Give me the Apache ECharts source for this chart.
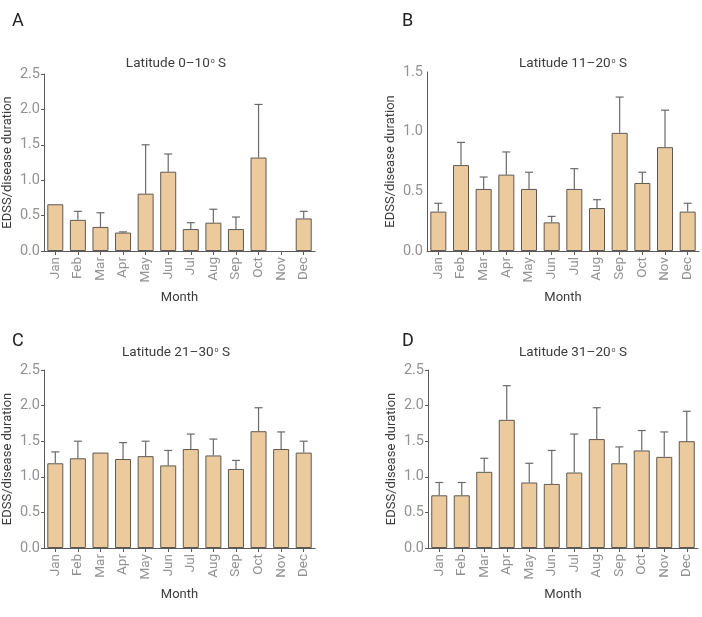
<!DOCTYPE html>
<html>
<head>
<meta charset="utf-8">
<script src="https://cdn.jsdelivr.net/npm/echarts@6/dist/echarts.min.js"></script>
<style>
html,body{margin:0;padding:0;background:#fff;}
#chart{width:702px;height:617px;}
</style>
</head>
<body>
<div id="chart"></div>
<script>
const months = ['Jan','Feb','Mar','Apr','May','Jun','Jul','Aug','Sep','Oct','Nov','Dec'];

const panelLetters = ['A','B','C','D'];
const panelTitles = ['Latitude 0–10', 'Latitude 11–20', 'Latitude 21–30', 'Latitude 31–20'];

const yMaxes = [2.5, 1.5, 2.5, 2.5];
const yTicks = [0.0, 0.5, 1.0, 1.5, 2.0, 2.5];

const valuesA = [0.66, 0.44, 0.34, 0.26, 0.81, 1.12, 0.31, 0.40, 0.31, 1.32, null, 0.46];
const errA    = [null, 0.56, 0.54, 0.27, 1.50, 1.37, 0.40, 0.59, 0.48, 2.07, null, 0.56];

const valuesB = [0.33, 0.72, 0.52, 0.64, 0.52, 0.24, 0.52, 0.36, 0.99, 0.57, 0.87, 0.33];
const errB    = [0.40, 0.91, 0.62, 0.83, 0.66, 0.29, 0.69, 0.43, 1.29, 0.66, 1.18, 0.40];

const valuesC = [1.19, 1.26, 1.34, 1.25, 1.29, 1.16, 1.39, 1.30, 1.11, 1.64, 1.39, 1.34];
const errC    = [1.35, 1.50, null, 1.48, 1.50, 1.37, 1.60, 1.53, 1.23, 1.97, 1.63, 1.50];

const valuesD = [0.74, 0.74, 1.07, 1.80, 0.92, 0.90, 1.06, 1.53, 1.19, 1.37, 1.28, 1.50];
const errD    = [0.92, 0.92, 1.26, 2.28, 1.19, 1.37, 1.60, 1.97, 1.42, 1.65, 1.63, 1.92];

const allValues = [valuesA, valuesB, valuesC, valuesD];
const allErrs = [errA, errB, errC, errD];

const grids = [
  {left: 44, top: 74, width: 271, height: 177},
  {left: 427, top: 72, width: 272, height: 179},
  {left: 44, top: 370, width: 271, height: 178},
  {left: 428, top: 370, width: 270, height: 178}
];
const titlePos = [
  {x: 171, y: 52},
  {x: 568, y: 52},
  {x: 171, y: 341},
  {x: 568, y: 341}
];
const letterPos = [
  {x: 12, y: 12},
  {x: 402, y: 12},
  {x: 12, y: 332},
  {x: 402, y: 332}
];

const axisColor = '#5a5a5a';
const labelColor = '#929292';
const textColor = '#3c3c3c';
const barFill = '#EBCB9E';
const barBorder = '#5f5851';
const errColor = '#6a6a6a';

function errRender(params, api) {
  const x = api.value(0);
  const v = api.value(1);
  const e = api.value(2);
  const p0 = api.coord([x, v]);
  const p1 = api.coord([x, e]);
  const style = {stroke: errColor, lineWidth: 1.2};
  return {
    type: 'group',
    children: [
      {type: 'line', shape: {x1: p0[0], y1: p0[1], x2: p1[0], y2: p1[1]}, style: style},
      {type: 'line', shape: {x1: p1[0] - 4, y1: p1[1], x2: p1[0] + 4, y2: p1[1]}, style: style}
    ]
  };
}

const option = {
  animation: false,
  backgroundColor: '#ffffff',
  textStyle: {fontFamily: 'Roboto, "Noto Sans", sans-serif'},
  grid: grids,
  title: panelTitles.map((t, i) => ({
    text: '{a|' + t + '}{s|o}{a| S}',
    left: titlePos[i].x,
    top: titlePos[i].y,
    textAlign: 'center',
    textStyle: {
      rich: {
        a: {fontSize: 13.5, color: textColor, fontFamily: 'Roboto', fontWeight: 'normal'},
        s: {fontSize: 7, color: textColor, fontFamily: 'Roboto', fontWeight: 'normal', padding: [0, 0, 6, 1]}
      }
    }
  })),
  graphic: panelLetters.map((l, i) => ({
    type: 'text',
    left: letterPos[i].x,
    top: letterPos[i].y,
    style: {text: l, fontSize: 18, fill: '#222', fontFamily: 'Roboto', fontWeight: 'normal'}
  })),
  xAxis: grids.map((g, i) => ({
    type: 'category',
    gridIndex: i,
    data: months,
    name: 'Month',
    nameLocation: 'middle',
    nameGap: 40,
    nameTextStyle: {fontSize: 13, color: textColor, fontFamily: 'Roboto', fontWeight: 'normal'},
    axisLine: {lineStyle: {color: axisColor, width: 1}},
    axisTick: {show: true, alignWithLabel: true, length: 4, lineStyle: {color: axisColor}},
    axisLabel: {rotate: 90, fontSize: 13.5, color: labelColor, margin: 6, fontFamily: 'Roboto', fontWeight: 'normal'}
  })),
  yAxis: grids.map((g, i) => ({
    type: 'value',
    gridIndex: i,
    min: 0,
    max: yMaxes[i],
    interval: 0.5,
    name: 'EDSS/disease duration',
    nameLocation: 'middle',
    nameGap: 30,
    nameTextStyle: {fontSize: 13, color: textColor, fontFamily: 'Roboto', fontWeight: 'normal'},
    axisLine: {show: true, lineStyle: {color: axisColor, width: 1}},
    axisTick: {show: i !== 1, length: 3, lineStyle: {color: axisColor}},
    splitLine: {show: false},
    axisLabel: {
      fontSize: 14.5, color: labelColor, margin: 4, fontFamily: 'Roboto', fontWeight: 'normal',
      formatter: v => yTicks.includes(v) ? v.toFixed(1) : ''
    }
  })),
  series: [].concat(
    allValues.map((vals, i) => ({
      type: 'bar',
      xAxisIndex: i,
      yAxisIndex: i,
      data: vals,
      barWidth: 16,
      itemStyle: {color: barFill, borderColor: barBorder, borderWidth: 1},
      z: 2
    })),
    allErrs.map((errs, i) => ({
      type: 'custom',
      xAxisIndex: i,
      yAxisIndex: i,
      renderItem: errRender,
      data: errs.map((e, j) => e == null ? null : [j, allValues[i][j], e]).filter(d => d !== null),
      z: 3
    }))
  )
};

const chart = echarts.init(document.getElementById('chart'), null, {renderer: 'canvas'});
chart.setOption(option);
</script>
</body>
</html>
